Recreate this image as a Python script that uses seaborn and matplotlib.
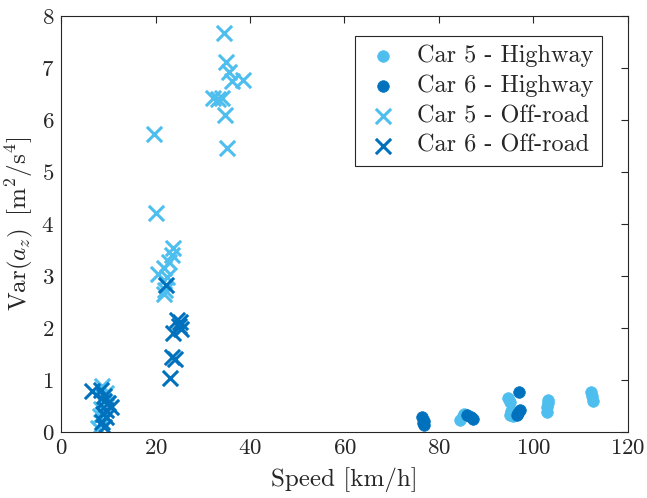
import matplotlib

matplotlib.use("Agg")

import matplotlib.pyplot as plt
import pandas as pd
import seaborn as sns

# Car 5 - Highway
car5_hw_speed = [84.5, 85.0, 85.3, 94.7, 95.0, 95.3, 95.0, 95.6, 103.0, 103.1, 102.8, 102.9, 112.1, 112.4, 112.6]
car5_hw_var = [0.24, 0.30, 0.35, 0.65, 0.58, 0.40, 0.33, 0.30, 0.62, 0.55, 0.48, 0.39, 0.76, 0.70, 0.60]

# Car 6 - Highway
car6_hw_speed = [76.5, 76.8, 76.6, 76.9, 86.0, 86.7, 87.2, 97.0, 97.1, 96.8, 96.5]
car6_hw_var = [0.28, 0.22, 0.17, 0.13, 0.32, 0.28, 0.25, 0.77, 0.43, 0.37, 0.33]

# Car 5 - Off-road
car5_or_speed = [8.7, 7.8, 8.2, 9.8, 8.5, 9.5,
                 19.7, 20.2, 23.6, 23.4, 22.9, 21.7, 20.6, 22.4, 22.0, 21.7,
                 34.4, 34.9, 35.6, 36.1, 38.6, 32.2, 33.3, 34.0, 34.7, 35.2]
car5_or_var = [0.88, 0.08, 0.30, 0.55, 0.45, 0.75,
               5.73, 4.22, 3.54, 3.40, 3.27, 3.15, 3.04, 2.99, 2.73, 2.65,
               7.68, 7.12, 6.93, 6.74, 6.77, 6.42, 6.40, 6.42, 6.10, 5.46]

# Car 6 - Off-road
car6_or_speed = [6.5, 8.5, 9.2, 9.0, 10.5, 9.5, 8.8, 9.6, 8.6, 9.2, 10.0,
                 22.2, 24.5, 25.2, 25.0, 25.5, 23.8, 23.4, 24.1, 23.1]
car6_or_var = [0.78, 0.80, 0.70, 0.60, 0.48, 0.42, 0.35, 0.28, 0.20, 0.10, 0.55,
               2.83, 2.15, 2.12, 2.03, 1.99, 1.90, 1.44, 1.40, 1.04]

LIGHT = "#4DBEEE"
DARK = "#0072BD"

sns.set_style("white")
plt.rcParams["font.family"] = "serif"
plt.rcParams["font.serif"] = ["cmr10"]
plt.rcParams["mathtext.fontset"] = "cm"
plt.rcParams["axes.formatter.use_mathtext"] = True
plt.rcParams["axes.unicode_minus"] = False

fig = plt.figure(figsize=(6.47, 4.98), dpi=100)
ax = fig.add_axes([0.0943, 0.1325, 0.8763, 0.8355])

series = [
    (car5_hw_speed, car5_hw_var, "Car 5 - Highway", LIGHT, "o"),
    (car6_hw_speed, car6_hw_var, "Car 6 - Highway", DARK, "o"),
    (car5_or_speed, car5_or_var, "Car 5 - Off-road", LIGHT, "X"),
    (car6_or_speed, car6_or_var, "Car 6 - Off-road", DARK, "X"),
]
for speed, var, label, color, marker in series:
    df = pd.DataFrame({"speed": speed, "var": var})
    if marker == "o":
        sns.scatterplot(data=df, x="speed", y="var", ax=ax, color=color, marker="o",
                        s=70, edgecolor=color, linewidth=0.5, label=label)
    else:
        sns.scatterplot(data=df, x="speed", y="var", ax=ax, color=color, marker="x",
                        s=120, linewidth=2.2, label=label)

ax.set_xlim(0, 120)
ax.set_ylim(0, 8)
ax.set_xticks(range(0, 121, 20))
ax.set_yticks(range(0, 9))
ax.set_xlabel("Speed [km/h]", fontsize=18, labelpad=6)
ax.set_ylabel(r"$\mathrm{Var}(a_z)\;\;[\mathrm{m}^2/\mathrm{s}^4]$", fontsize=18, labelpad=4)
ax.tick_params(direction="in", top=True, right=True, labelsize=16.5, length=5,
               color="#262626", width=0.8, pad=5)
for spine in ax.spines.values():
    spine.set_color("#262626")
    spine.set_linewidth(0.8)

leg = ax.legend(loc="upper right", bbox_to_anchor=(0.954, 0.952), fontsize=17.5,
                frameon=True, fancybox=False, edgecolor="#262626", framealpha=1,
                handletextpad=0.6, borderpad=0.35, labelspacing=0.32, handlelength=1.6,
                borderaxespad=0)
leg.get_frame().set_linewidth(0.8)

fig.savefig("out.png", dpi=100)
